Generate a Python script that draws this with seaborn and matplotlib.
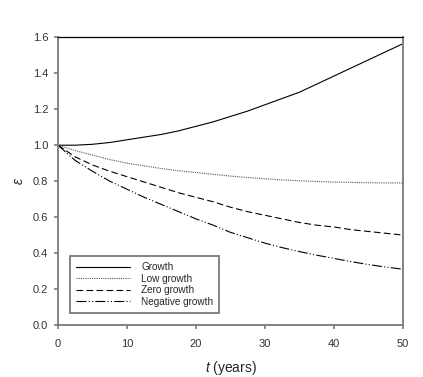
import numpy as np
import pandas as pd
import matplotlib
matplotlib.use("Agg")
import matplotlib.pyplot as plt
import seaborn as sns

# values
t = [0, 2.5, 5, 7.5, 10, 12.5, 15, 17.5, 20, 22.5, 25, 27.5, 30,
     32.5, 35, 37.5, 40, 42.5, 45, 47.5, 50]
growth = [1.0, 1.0, 1.005, 1.015, 1.03, 1.045, 1.06, 1.08, 1.105, 1.13, 1.16,
          1.19, 1.225, 1.26, 1.295, 1.34, 1.385, 1.43, 1.475, 1.52, 1.565]
low_growth = [1.0, 0.97, 0.945, 0.92, 0.9, 0.885, 0.87, 0.858, 0.848, 0.838,
              0.828, 0.82, 0.813, 0.807, 0.802, 0.798, 0.795, 0.793, 0.791,
              0.79, 0.79]
zero_growth = [1.0, 0.935, 0.89, 0.855, 0.825, 0.795, 0.765, 0.735, 0.71,
               0.685, 0.655, 0.63, 0.61, 0.59, 0.57, 0.555, 0.545, 0.53,
               0.52, 0.51, 0.5]
neg_growth = [1.0, 0.915, 0.855, 0.8, 0.755, 0.71, 0.67, 0.63, 0.59, 0.555,
              0.515, 0.485, 0.455, 0.43, 0.408, 0.388, 0.37, 0.352, 0.336,
              0.322, 0.31]

series = ["Growth", "Low growth", "Zero growth", "Negative growth"]
values = [growth, low_growth, zero_growth, neg_growth]

sns.set_style("ticks")
plt.rcParams["font.family"] = ["Liberation Sans", "DejaVu Sans"]
plt.rcParams["mathtext.fontset"] = "custom"
plt.rcParams["mathtext.it"] = "Liberation Sans:italic"
plt.rcParams["mathtext.rm"] = "Liberation Sans"

fig = plt.figure(figsize=(4.23, 3.77), dpi=100)
ax = fig.add_axes([0.137, 0.138, 0.816, 0.763])

styles = {
    "Growth": dict(color="black", linestyle="-"),
    "Low growth": dict(color="#555555", linestyle=(0, (1, 1))),
    "Zero growth": dict(color="black", linestyle=(0, (6, 3))),
    "Negative growth": dict(color="black", linestyle=(0, (9, 2, 1, 2, 1, 2))),
}

for name, vals in zip(series, values):
    df = pd.DataFrame({"t": t, "eps": vals})
    sns.lineplot(data=df, x="t", y="eps", ax=ax, label=name, linewidth=0.8,
                 **styles[name])

ax.set_xlim(0, 50)
ax.set_ylim(0, 1.6)
ax.set_xticks([0, 10, 20, 30, 40, 50])
ax.set_yticks(np.arange(0, 1.61, 0.2))
ax.set_yticklabels([f"{v:.1f}" for v in np.arange(0, 1.61, 0.2)])

for side in ["left", "bottom", "right"]:
    ax.spines[side].set_color("#7a7a7a")
    ax.spines[side].set_linewidth(1.3)
ax.spines["top"].set_color("black")
ax.spines["top"].set_linewidth(0.9)
ax.tick_params(direction="out", length=3, width=1.2, color="#7a7a7a",
               labelsize=8, labelcolor="#333333", pad=4)
ax.tick_params(axis="x", pad=7)

ax.set_xlabel(r"$\mathit{t}$ (years)", fontsize=10, labelpad=7)
ax.set_ylabel(r"$\mathit{\varepsilon}$", fontsize=10, labelpad=5)

leg = ax.legend(loc="lower left", bbox_to_anchor=(0.035, 0.042),
                borderaxespad=0, fontsize=7.2, handlelength=5.4,
                fancybox=False, framealpha=1, labelspacing=0.15,
                handletextpad=1.1, borderpad=0.6)
leg.get_frame().set_edgecolor("#7a7a7a")
leg.get_frame().set_linewidth(1.3)

fig.savefig("out.png", dpi=100)
